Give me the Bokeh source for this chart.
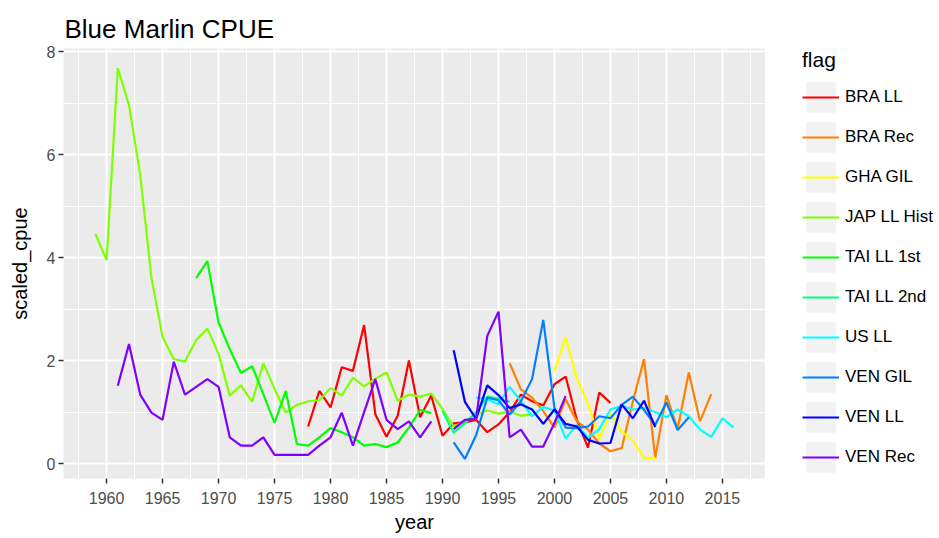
import numpy as np
from bokeh.plotting import figure
from bokeh.layouts import row
from bokeh.models import ColumnDataSource, FixedTicker, Legend, LegendItem, Range1d
from bokeh.embed import file_html
from bokeh.resources import INLINE

# ---------------- data ----------------
flags = ["BRA LL", "BRA Rec", "GHA GIL", "JAP LL Hist", "TAI LL 1st",
         "TAI LL 2nd", "US LL", "VEN GIL", "VEN LL", "VEN Rec"]
colors = ["#FF0000", "#FF8000", "#FFFF00", "#80FF00", "#00FF00",
          "#00FF80", "#00FFFF", "#0080FF", "#0000FF", "#8000FF"]

bra_ll_years = list(range(1978, 2006))
bra_ll = [0.72, 1.41, 1.09, 1.87, 1.80, 2.69, 0.96, 0.52, 0.93, 2.00,
          0.90, 1.32, 0.54, 0.78, 0.80, 0.85, 0.61, 0.76, 1.00, 1.34,
          1.21, 1.13, 1.54, 1.69, 0.85, 0.31, 1.38, 1.18]

bra_rec_years = list(range(1996, 2015))
bra_rec = [1.95, 1.44, 1.28, 1.02, 0.70, 1.25, 0.82, 0.66, 0.39, 0.24,
           0.30, 1.20, 2.03, 0.11, 1.33, 0.67, 1.77, 0.82, 1.35]

gha_gil_years = list(range(2000, 2010))
gha_gil = [1.80, 2.45, 1.65, 1.17, 0.48, 0.98, 0.62, 0.45, 0.11, 0.11]

jap_ll_hist_years = list(range(1959, 1999))
jap_ll_hist = [4.46, 3.95, 7.68, 6.96, 5.61, 3.61, 2.46, 2.03, 1.98, 2.40,
               2.62, 2.13, 1.32, 1.52, 1.20, 1.95, 1.45, 0.99, 1.14, 1.21,
               1.23, 1.47, 1.32, 1.67, 1.50, 1.65, 1.77, 1.22, 1.34, 1.30,
               1.36, 1.06, 0.72, 0.82, 0.95, 1.03, 0.97, 1.01, 0.93, 0.95]

tai_ll_1st_years = list(range(1968, 1990))
tai_ll_1st = [3.60, 3.93, 2.74, 2.22, 1.76, 1.89, 1.35, 0.79, 1.41, 0.38,
              0.35, 0.51, 0.69, 0.61, 0.51, 0.35, 0.38, 0.32, 0.41, 0.70,
              1.04, 0.98]

tai_ll_2nd_years = list(range(1990, 1997))
tai_ll_2nd = [1.02, 0.60, 0.78, 1.00, 1.30, 1.26, 1.20]

us_ll_years = list(range(1993, 2017))
us_ll = [1.28, 1.25, 1.15, 1.49, 1.21, 0.92, 1.10, 1.03, 0.49, 0.75,
         0.50, 0.67, 1.05, 1.12, 1.05, 1.08, 1.00, 0.90, 1.05, 0.92,
         0.66, 0.52, 0.88, 0.70]

ven_gil_years = list(range(1991, 2013))
ven_gil = [0.41, 0.09, 0.55, 1.28, 1.23, 0.95, 1.21, 1.64, 2.79, 1.08,
           0.70, 0.69, 0.72, 0.92, 0.88, 1.14, 1.30, 1.04, 0.75, 1.19,
           0.65, 0.90]

ven_ll_years = list(range(1991, 2010))
ven_ll = [2.20, 1.20, 0.87, 1.52, 1.33, 1.08, 1.15, 1.05, 0.77, 1.05,
          0.77, 0.72, 0.46, 0.39, 0.40, 1.15, 0.88, 1.22, 0.71]

ven_rec_years = list(range(1961, 2002))
ven_rec = [1.51, 2.32, 1.34, 0.99, 0.85, 1.98, 1.34, 1.49, 1.64, 1.49,
           0.51, 0.35, 0.35, 0.51, 0.17, 0.17, 0.17, 0.17, 0.35, 0.51,
           0.99, 0.35, 1.00, 1.64, 0.85, 0.67, 0.82, 0.51, 0.82, np.nan,
           0.67, 0.85, 0.87, 2.48, 2.95, 0.51, 0.66, 0.33, 0.33, 0.79,
           1.31]

series = [
    (bra_ll_years, bra_ll), (bra_rec_years, bra_rec), (gha_gil_years, gha_gil),
    (jap_ll_hist_years, jap_ll_hist), (tai_ll_1st_years, tai_ll_1st),
    (tai_ll_2nd_years, tai_ll_2nd), (us_ll_years, us_ll),
    (ven_gil_years, ven_gil), (ven_ll_years, ven_ll), (ven_rec_years, ven_rec),
]

x_ticks = [1960, 1965, 1970, 1975, 1980, 1985, 1990, 1995, 2000, 2005, 2010, 2015]
x_minor = [1957.5, 1962.5, 1967.5, 1972.5, 1977.5, 1982.5, 1987.5, 1992.5,
           1997.5, 2002.5, 2007.5, 2012.5, 2017.5]
y_ticks = [0, 2, 4, 6, 8]
y_minor = [1, 3, 5, 7]

# ---------------- ranges (ggplot-like 5% expansion) ----------------
all_x = np.concatenate([np.array(s[0], dtype=float) for s in series])
all_y = np.concatenate([np.array(s[1], dtype=float) for s in series])
xmin, xmax = np.nanmin(all_x), np.nanmax(all_x)
ymin, ymax = np.nanmin(all_y), np.nanmax(all_y)
xpad = 0.05 * (xmax - xmin)
ypad = 0.05 * (ymax - ymin)

FONT = "Liberation Sans"

p = figure(width=765, height=538, output_backend="svg", toolbar_location=None,
           x_range=Range1d(xmin - xpad, xmax + xpad),
           y_range=Range1d(ymin - ypad, ymax + ypad),
           min_border_left=63, min_border_right=0,
           min_border_top=47, min_border_bottom=60,
           background_fill_color="#EBEBEB", border_fill_color="white",
           outline_line_color=None)

p.title.text = "Blue Marlin CPUE"
p.title.text_font = FONT
p.title.text_font_size = "26px"
p.title.text_font_style = "normal"
p.title.text_color = "black"
p.title.offset = 1
p.title.standoff = 10

for ax in (p.xaxis, p.yaxis):
    ax.axis_line_color = None
    ax.major_tick_line_color = "#333333"
    ax.major_tick_line_width = 1.5
    ax.major_tick_out = 5
    ax.major_tick_in = 0
    ax.minor_tick_line_color = None
    ax.major_label_text_color = "#4D4D4D"
    ax.major_label_text_font = FONT
    ax.major_label_text_font_size = "16px"
    ax.major_label_standoff = 3
    ax.axis_label_text_font = FONT
    ax.axis_label_text_font_size = "20px"
    ax.axis_label_text_font_style = "normal"
    ax.axis_label_text_color = "black"

p.xaxis.axis_label = "year"
p.yaxis.axis_label = "scaled_cpue"
p.xaxis.major_label_standoff = 8
p.xaxis.axis_label_standoff = 4
p.yaxis.axis_label_standoff = 13
p.xaxis.ticker = FixedTicker(ticks=x_ticks, minor_ticks=x_minor)
p.yaxis.ticker = FixedTicker(ticks=y_ticks, minor_ticks=y_minor)

for g in (p.xgrid, p.ygrid):
    g.grid_line_color = "white"
    g.grid_line_width = 2
    g.minor_grid_line_color = "white"
    g.minor_grid_line_width = 1

for col, (yrs, vals) in zip(colors, series):
    src = ColumnDataSource(dict(year=np.array(yrs, dtype=float),
                                cpue=np.array(vals, dtype=float)))
    p.line("year", "cpue", source=src, line_color=col, line_width=2.2)

# ---------------- legend panel (separate figure to the right) ----------------
lg = figure(width=174, height=538, output_backend="svg", toolbar_location=None,
            x_range=Range1d(0, 1), y_range=Range1d(0, 1),
            x_axis_type=None, y_axis_type=None,
            min_border_left=37, min_border_right=0,
            min_border_top=48, min_border_bottom=0,
            background_fill_color="white", border_fill_color="white",
            outline_line_color=None)
lg.xgrid.visible = False
lg.ygrid.visible = False

nan2 = [np.nan, np.nan]
key_bg = lg.quad(left=[np.nan], right=[np.nan], top=[np.nan], bottom=[np.nan],
                 fill_color="#F2F2F2", line_color=None)
items = []
for name, col in zip(flags, colors):
    r = lg.line(x=nan2, y=nan2, line_color=col, line_width=2.2)
    items.append(LegendItem(label=name, renderers=[key_bg, r]))

legend = Legend(items=items, location="top_left", title="flag",
                title_text_font=FONT, title_text_font_size="21px",
                title_text_font_style="normal", title_text_color="black",
                title_standoff=6,
                label_text_font=FONT, label_text_font_size="17px",
                label_text_color="black",
                glyph_width=37, glyph_height=38, label_height=20,
                spacing=2, label_standoff=6, padding=0, margin=0,
                background_fill_alpha=0, border_line_color=None)
lg.add_layout(legend)

layout = row(p, lg, spacing=0)
open("out.html", "w").write(file_html(layout, INLINE))
